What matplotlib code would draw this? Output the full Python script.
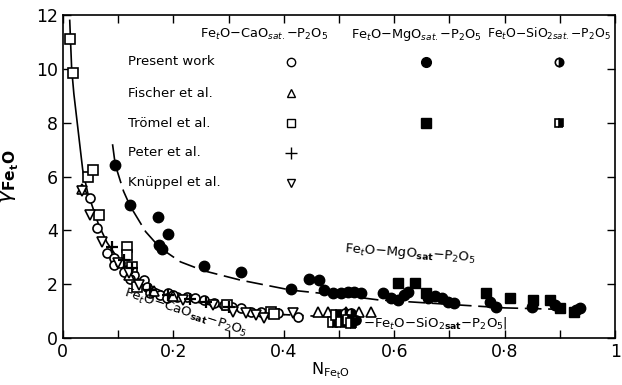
import matplotlib
matplotlib.use("Agg")
import matplotlib.pyplot as plt
from matplotlib.ticker import MultipleLocator, FuncFormatter

plt.rcParams.update({"font.family": "DejaVu Sans", "mathtext.fontset": "dejavusans"})

# Fe_tO-CaO_sat-P2O5 system
present_cao_x = [0.049, 0.062, 0.08, 0.093, 0.093, 0.104, 0.116, 0.129, 0.147, 0.153,
                 0.158, 0.176, 0.191, 0.207, 0.189, 0.225, 0.24, 0.255, 0.273, 0.291,
                 0.307, 0.322, 0.34, 0.358, 0.373, 0.389, 0.425, 0.11, 0.122, 0.2]
present_cao_y = [5.2, 4.09, 3.16, 2.97, 2.71, 2.79, 2.53, 2.34, 2.16, 1.9,
                 1.67, 1.6, 1.67, 1.52, 1.49, 1.52, 1.49, 1.41, 1.3, 1.23,
                 1.15, 1.12, 0.97, 0.97, 0.93, 0.93, 0.78, 2.45, 2.2, 1.6]
fischer_x = [0.035, 0.12, 0.165, 0.2, 0.462, 0.48, 0.513, 0.537, 0.558]
fischer_y = [5.55, 2.34, 1.75, 1.55, 0.97, 0.95, 0.97, 0.97, 0.97]
tromel_cao_x = [0.013, 0.018, 0.045, 0.055, 0.065, 0.116, 0.116, 0.125, 0.134, 0.298, 0.376, 0.382]
tromel_cao_y = [11.1, 9.85, 6.0, 6.25, 4.57, 3.4, 3.1, 2.64, 1.9, 1.23, 0.97, 0.9]
peter_x = [0.089, 0.11, 0.125, 0.158, 0.19, 0.23, 0.26, 0.3]
peter_y = [3.38, 2.9, 2.6, 1.78, 1.6, 1.45, 1.35, 1.15]
knuppel_x = [0.035, 0.049, 0.071, 0.1, 0.12, 0.138, 0.218, 0.271, 0.309, 0.331, 0.349, 0.364, 0.416]
knuppel_y = [5.45, 4.57, 3.57, 2.8, 2.4, 1.97, 1.41, 1.23, 0.97, 0.93, 0.86, 0.74, 0.93]

# Fe_tO-MgO_sat-P2O5 system
present_mgo_x = [0.095, 0.122, 0.173, 0.191, 0.175, 0.18, 0.255, 0.322, 0.413, 0.445,
                 0.464, 0.473, 0.49, 0.504, 0.516, 0.527, 0.54, 0.58, 0.595, 0.607,
                 0.618, 0.625, 0.662, 0.673, 0.686, 0.698, 0.709, 0.773, 0.785, 0.849,
                 0.891, 0.93, 0.936]
present_mgo_y = [6.43, 4.94, 4.5, 3.87, 3.45, 3.3, 2.68, 2.45, 1.82, 2.19,
                 2.16, 1.78, 1.66, 1.66, 1.7, 1.7, 1.66, 1.66, 1.48, 1.41,
                 1.6, 1.7, 1.48, 1.56, 1.48, 1.34, 1.3, 1.34, 1.15, 1.15,
                 1.23, 1.04, 1.1]
tromel_mgo_x = [0.607, 0.637, 0.658, 0.767, 0.81, 0.852, 0.882, 0.9, 0.925]
tromel_mgo_y = [2.04, 2.04, 1.66, 1.66, 1.48, 1.41, 1.41, 1.12, 0.97]

# Fe_tO-SiO2_sat-P2O5 system
present_sio2_x = [0.51, 0.522, 0.53]
present_sio2_y = [0.93, 0.93, 0.67]
tromel_sio2_x = [0.49, 0.504, 0.516, 0.495, 0.522]
tromel_sio2_y = [0.6, 0.6, 0.67, 0.86, 0.56]

# trend curves
cao_curve_x = [0.0125, 0.016, 0.02, 0.036, 0.045, 0.055, 0.065, 0.08, 0.1, 0.125,
               0.15, 0.2, 0.25, 0.3, 0.35, 0.4]
cao_curve_y = [11.8, 10.0, 9.07, 6.25, 5.4, 4.8, 4.2, 3.55, 2.95, 2.4,
               2.0, 1.55, 1.3, 1.1, 0.97, 0.87]
sio2_curve_x = [0.4, 0.45, 0.5]
sio2_curve_y = [0.87, 0.82, 0.78]
mgo_curve_x = [0.09, 0.095, 0.11, 0.122, 0.15, 0.176, 0.213, 0.255, 0.322, 0.413,
               0.52, 0.57, 0.7, 0.8, 0.93]
mgo_curve_y = [7.2, 6.43, 5.45, 4.9, 3.95, 3.35, 2.83, 2.5, 2.15, 1.78,
               1.55, 1.42, 1.25, 1.12, 1.05]

fig = plt.figure(figsize=(6.22, 3.85), dpi=100)
ax = fig.add_axes([0.101, 0.122, 0.888, 0.839])

ax.plot(cao_curve_x, cao_curve_y, color="black", lw=1.2, zorder=1)
ax.plot(sio2_curve_x, sio2_curve_y, color="black", lw=1.2, ls=(0, (4, 4)), zorder=1)
ax.plot(mgo_curve_x, mgo_curve_y, color="black", lw=1.2, ls=(0, (10, 4)), zorder=1)

op = dict(ls="none", mfc="white", mec="black", mew=1.2, ms=6.5, zorder=3)
ax.plot(present_cao_x, present_cao_y, marker="o", **op)
ax.plot(fischer_x, fischer_y, marker="^", **op)
ax.plot(tromel_cao_x, tromel_cao_y, marker="s", **op)
ax.plot(knuppel_x, knuppel_y, marker="v", **op)
ax.plot(peter_x, peter_y, ls="none", marker="+", color="black", ms=8, mew=1.6, zorder=4)

ax.plot(present_mgo_x, present_mgo_y, ls="none", marker="o", color="black", ms=7.5, zorder=3)
ax.plot(tromel_mgo_x, tromel_mgo_y, ls="none", marker="s", color="black", ms=7, zorder=3)

hf = dict(ls="none", mfc="black", mfcalt="white", mec="black", fillstyle="right", mew=1.2)
ax.plot(present_sio2_x, present_sio2_y, marker="o", ms=6.5, zorder=4, **hf)
ax.plot(tromel_sio2_x, tromel_sio2_y, marker="s", ms=6.5, zorder=4, **hf)

# legend table at the top
hdr = 9.3
ax.text(0.249, 11.15, r"Fe$_t$O$-$CaO$_{sat.}$$-$P$_2$O$_5$", fontsize=hdr)
ax.text(0.522, 11.15, r"Fe$_t$O$-$MgO$_{sat.}$$-$P$_2$O$_5$", fontsize=hdr)
ax.text(0.768, 11.15, r"Fe$_t$O$-$SiO$_{2sat.}$$-$P$_2$O$_5$", fontsize=8.9, clip_on=False)

rows = ["Present work", "Fischer et al.", "Trömel et al.", "Peter et al.", "Knüppel et al."]
row_y = [0.855, 0.758, 0.665, 0.573, 0.48]
col_x = [0.413, 0.658, 0.898]
tr = ax.transAxes
for name, yy in zip(rows, row_y):
    ax.text(0.118, yy, name, transform=tr, fontsize=9.5, va="center")
key = dict(ls="none", mfc="white", mec="black", mew=1.0, ms=6, transform=tr)
ax.plot(col_x[0], row_y[0], marker="o", **key)
ax.plot(col_x[0], row_y[1], marker="^", **key)
ax.plot(col_x[0], row_y[2], marker="s", **key)
ax.plot(col_x[0], row_y[3], marker="+", color="black", ms=8, mew=1.0, transform=tr)
ax.plot(col_x[0], row_y[4], marker="v", **key)
ax.plot(col_x[1], row_y[0], marker="o", color="black", ms=7, transform=tr)
ax.plot(col_x[1], row_y[2], marker="s", color="black", ms=6.5, transform=tr)
ax.plot(col_x[2], row_y[0], marker="o", ms=6, transform=tr, **hf)
ax.plot(col_x[2], row_y[2], marker="s", ms=6, transform=tr, **hf)

# curve labels
ax.text(0.509, 2.85, r"Fe$_t$O$-$MgO$_{\mathbf{sat}}$$-$P$_2$O$_5$", fontsize=9.5, rotation=-4,
        ha="left", va="baseline")
ax.text(0.222, 0.95, r"Fe$_t$O$-$CaO$_{\mathbf{sat}}$$-$P$_2$O$_5$", fontsize=9.5, rotation=-18,
        ha="center", va="center", rotation_mode="anchor")
ax.text(0.543, 0.56, r"$-$Fe$_t$O$-$SiO$_{2\mathbf{sat}}$$-$P$_2$O$_5$|", fontsize=9.5,
        ha="left", va="center")


def xfmt(v, pos):
    v = round(v, 1)
    if v in (0, 1):
        return f"{int(v)}"
    return f"{v:.1f}".replace(".", "·")


ax.set_xlim(0, 1)
ax.set_ylim(0, 12)
ax.xaxis.set_major_locator(MultipleLocator(0.2))
ax.xaxis.set_minor_locator(MultipleLocator(0.1))
ax.yaxis.set_major_locator(MultipleLocator(2))
ax.xaxis.set_major_formatter(FuncFormatter(xfmt))
ax.tick_params(which="both", direction="in", top=True, right=True, labelsize=12.5, width=1.0)
ax.tick_params(which="major", length=6)
ax.tick_params(which="minor", length=6)
for s in ax.spines.values():
    s.set_linewidth(1.2)

ax.set_ylabel(r"$\gamma_{\mathbf{Fe_tO}}$", fontsize=16)
ax.yaxis.set_label_coords(-0.075, 0.5)
ax.set_xlabel(r"N$_{\mathrm{Fe_tO}}$", fontsize=11.5)
ax.xaxis.set_label_coords(0.485, -0.07)

fig.savefig("out.png", dpi=100)
